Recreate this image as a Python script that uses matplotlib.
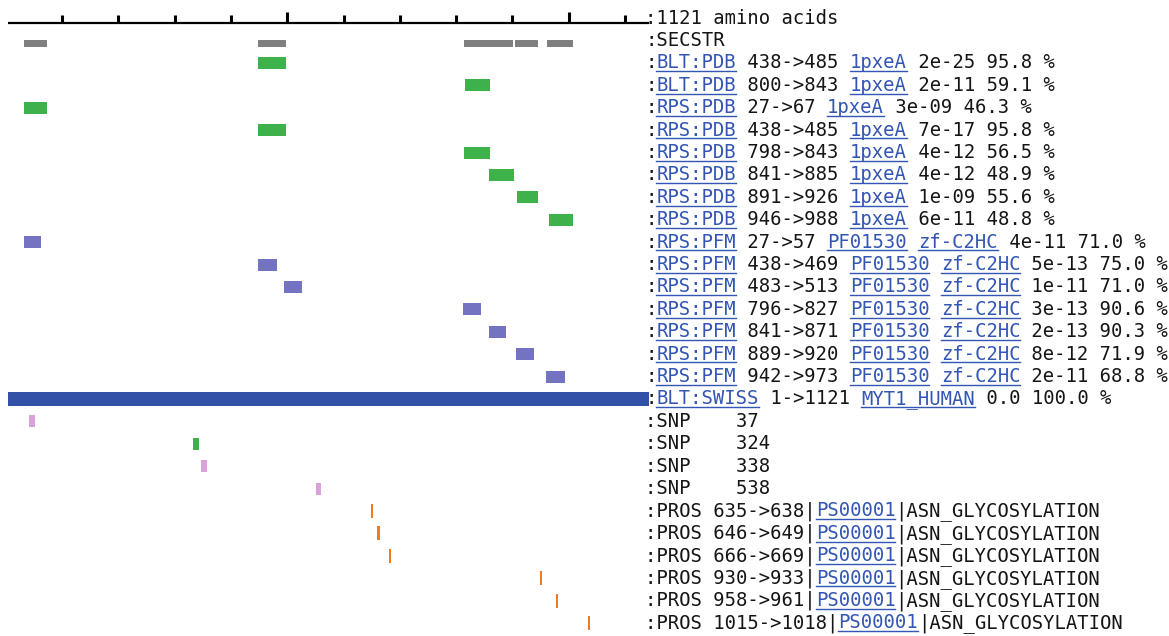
import numpy as np
import matplotlib
matplotlib.use("Agg")
import matplotlib.pyplot as plt
from matplotlib.transforms import blended_transform_factory

# protein length and ruler
prot_len = 1121
ruler_ticks = np.arange(100, 1101, 100)

# secondary structure segments
secstr_start = [27, 438, 798, 887, 943]
secstr_end = [67, 485, 882, 926, 988]

# PDB hits
pdb_src = ["BLT:PDB", "BLT:PDB", "RPS:PDB", "RPS:PDB", "RPS:PDB", "RPS:PDB", "RPS:PDB", "RPS:PDB"]
pdb_start = [438, 800, 27, 438, 798, 841, 891, 946]
pdb_end = [485, 843, 67, 485, 843, 885, 926, 988]
pdb_eval = ["2e-25", "2e-11", "3e-09", "7e-17", "4e-12", "4e-12", "1e-09", "6e-11"]
pdb_pct = ["95.8", "59.1", "46.3", "95.8", "56.5", "48.9", "55.6", "48.8"]

# Pfam hits
pfm_start = [27, 438, 483, 796, 841, 889, 942]
pfm_end = [57, 469, 513, 827, 871, 920, 973]
pfm_eval = ["4e-11", "5e-13", "1e-11", "3e-13", "2e-13", "8e-12", "2e-11"]
pfm_pct = ["71.0", "75.0", "71.0", "90.6", "90.3", "71.9", "68.8"]

# swissprot hit
swiss_start, swiss_end = 1, 1121

# SNPs
snp_pos = [37, 324, 338, 538]

# PROSITE motifs
pros_start = [635, 646, 666, 930, 958, 1015]
pros_end = [638, 649, 669, 933, 961, 1018]

W, H = 1169, 636
fig = plt.figure(figsize=(W / 100, H / 100), dpi=100)
ax = fig.add_axes([0, 0, 1, 1])
ax.axis("off")

px_aa = 0.5715   # pixels per residue
x_off = 8.1
row_h = 22.4
y2 = 63          # pixel centre of row 2
ax.set_xlim(-x_off / px_aa, (W - x_off) / px_aa)
ax.set_ylim(2 + (H - y2) / row_h, 2 - y2 / row_h)

green = "#3db24a"
purple = "#7373c2"
blue = "#3252a8"
gray = "#7f7f7f"
pink = "#d9a3d9"
orange = "#ee7a22"
link_c = "#3355b3"
txt_c = "#151515"

bar_h = 12 / row_h

# ruler (drawn on its own slightly compressed scale as in the image)
ax.plot([0, prot_len], [0.214, 0.214], color="black", lw=1.6, solid_capstyle="butt")
for i, t in enumerate(ruler_ticks):
    tx = t * 0.9852 - 4.2
    top = -0.28 if t % 500 == 0 else -0.14
    ax.plot([tx, tx], [top, 0.214], color="black", lw=2.2, solid_capstyle="butt")

# secstr
ax.barh([1.13] * len(secstr_start), np.array(secstr_end) - np.array(secstr_start) + 1,
        left=secstr_start, height=7 / row_h, color=gray)

row = 2
pdb_rows = list(range(row, row + len(pdb_start)))
ax.barh(pdb_rows, np.array(pdb_end) - np.array(pdb_start) + 1, left=pdb_start,
        height=bar_h, color=green)
row += len(pdb_start)
pfm_rows = list(range(row, row + len(pfm_start)))
ax.barh(pfm_rows, np.array(pfm_end) - np.array(pfm_start) + 1, left=pfm_start,
        height=bar_h, color=purple)
row += len(pfm_start)
swiss_row = row
ax.barh([swiss_row], [swiss_end - swiss_start + 1], left=[swiss_start - 1],
        height=14 / row_h, color=blue)
row += 1
snp_rows = list(range(row, row + len(snp_pos)))
snp_cols = [pink, green, pink, pink]
ax.barh(snp_rows, [10] * len(snp_pos), left=snp_pos, height=bar_h, color=snp_cols)
row += len(snp_pos)
pros_rows = list(range(row, row + len(pros_start)))
ax.barh(pros_rows, np.array(pros_end) - np.array(pros_start) + 1, left=pros_start,
        height=14 / row_h, color=orange)

# text column
mono = "DejaVu Sans Mono"
fs = 13.55
tr = blended_transform_factory(fig.transFigure, ax.transData)
probe = fig.text(0, 0, "0" * 40, fontsize=fs, family=mono)
fig.canvas.draw()
adv = probe.get_window_extent().width / 40
probe.remove()
x0 = 645


def put_line(r, segs):
    col = 0
    for s, link in segs:
        x = x0 + col * adv
        ax.text(x / W, r + 0.24, s, transform=tr, fontsize=fs, family=mono,
                color=link_c if link else txt_c, va="baseline", ha="left")
        if link:
            ax.plot([x / W, (x + len(s) * adv) / W], [r + 0.37] * 2, transform=tr,
                    color=link_c, lw=1)
        col += len(s)


put_line(0, [(":%d amino acids" % prot_len, False)])
put_line(1, [(":SECSTR", False)])
for i, r in enumerate(pdb_rows):
    put_line(r, [(":", False), (pdb_src[i], True),
                 (" %d->%d " % (pdb_start[i], pdb_end[i]), False), ("1pxeA", True),
                 (" %s %s %%" % (pdb_eval[i], pdb_pct[i]), False)])
for i, r in enumerate(pfm_rows):
    put_line(r, [(":", False), ("RPS:PFM", True),
                 (" %d->%d " % (pfm_start[i], pfm_end[i]), False), ("PF01530", True),
                 (" ", False), ("zf-C2HC", True),
                 (" %s %s %%" % (pfm_eval[i], pfm_pct[i]), False)])
put_line(swiss_row, [(":", False), ("BLT:SWISS", True),
                     (" %d->%d " % (swiss_start, swiss_end), False), ("MYT1_HUMAN", True),
                     (" 0.0 100.0 %", False)])
for i, r in enumerate(snp_rows):
    put_line(r, [(":SNP    %d" % snp_pos[i], False)])
for i, r in enumerate(pros_rows):
    put_line(r, [(":PROS %d->%d|" % (pros_start[i], pros_end[i]), False),
                 ("PS00001", True), ("|ASN_GLYCOSYLATION", False)])

fig.savefig("out.png", dpi=100, facecolor="white")
